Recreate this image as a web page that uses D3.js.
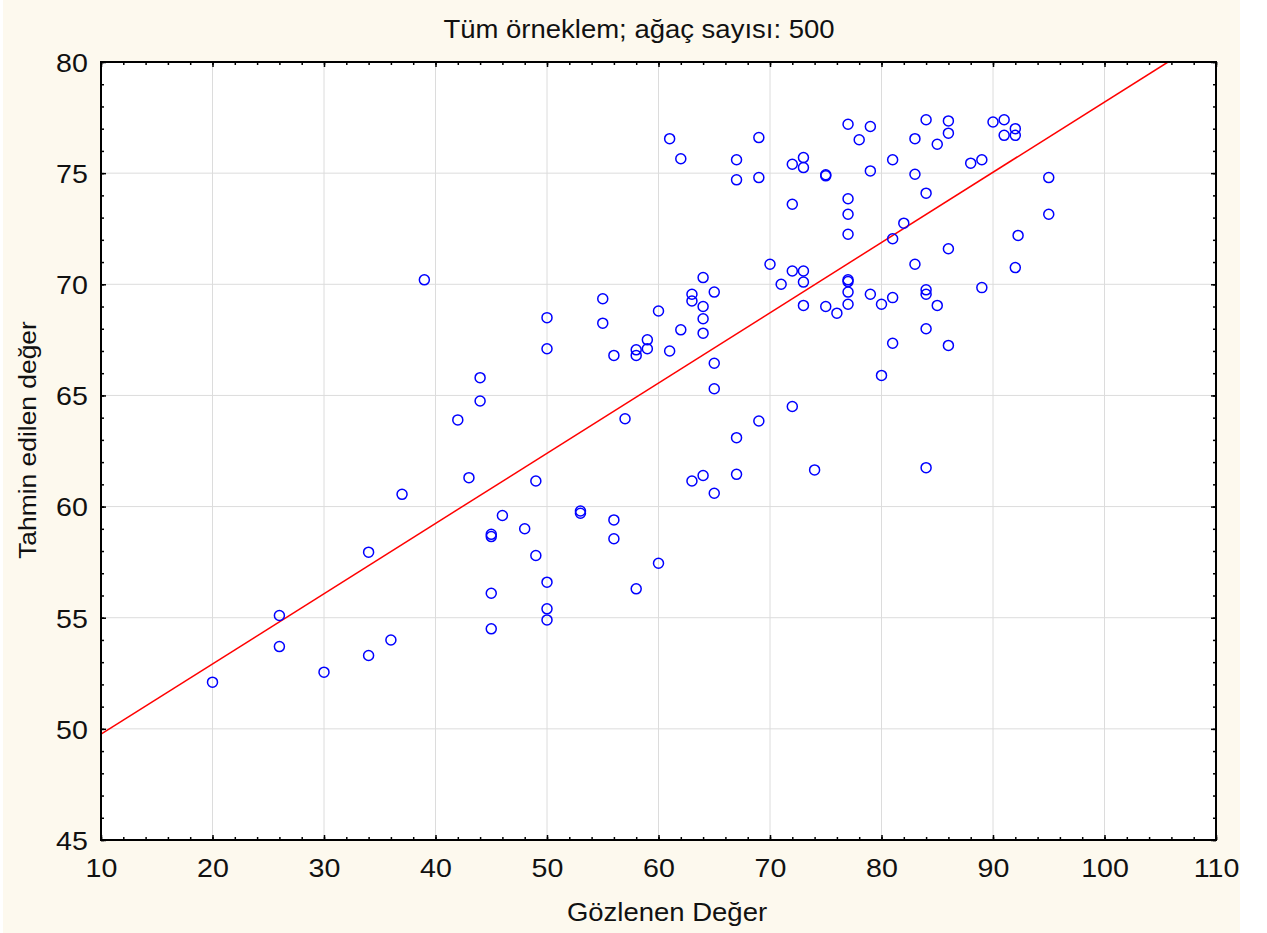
<!DOCTYPE html>
<html>
<head>
<meta charset="utf-8">
<script src="https://cdn.jsdelivr.net/npm/d3@7"></script>
<style>
  body { margin: 0; background: #fff; }
  svg text { font-family: "Liberation Sans", Arial, sans-serif; fill: #111; }
</style>
</head>
<body>
<div id="container"></div>
<script>
/* CONSTANTS AND GLOBALS */
const width = 1267,
  height = 933,
  margin = { top: 62, right: 51, bottom: 93, left: 101 },
  radius = 5,
  stretch = 1.1;

/* DATA */
const observed = [
  20, 26, 26, 30, 34, 34, 36, 37, 39, 42, 43, 44, 44, 45, 45, 45, 45, 46, 48, 49,
  49, 50, 50, 50, 50, 50, 53, 53, 55, 55, 56, 56, 56, 57, 58, 58, 58, 59, 59, 60,
  60, 61, 61, 62, 62, 63, 63, 63, 64, 64, 64, 64, 64, 65, 65, 65, 65, 67, 67, 67,
  67, 69, 69, 69, 70, 71, 72, 72, 72, 72, 73, 73, 73, 73, 73, 74, 75, 75, 75, 76,
  77, 77, 77, 77, 77, 77, 77, 77, 78, 79, 79, 79, 80, 80, 81, 81, 81, 81, 82, 83,
  83, 83, 84, 84, 84, 84, 84, 84, 85, 85, 86, 86, 86, 86, 88, 89, 89, 90, 91, 91,
  92, 92, 92, 92.25, 95, 95
];
const predicted = [
  52.1, 55.1, 53.7, 52.55, 57.95, 53.3, 54.0, 60.55, 70.2, 63.9, 61.3, 65.8, 64.75, 58.65, 58.75, 56.1, 54.5, 59.6, 59.0, 61.15,
  57.8, 68.5, 67.1, 56.6, 55.4, 54.9, 59.7, 59.8, 69.35, 68.25, 66.8, 59.4, 58.55, 63.95, 67.05, 66.8, 56.3, 67.5, 67.1, 68.8,
  57.45, 76.55, 67.0, 75.65, 67.95, 69.55, 69.25, 61.15, 70.3, 69.0, 68.45, 67.8, 61.4, 69.65, 66.45, 65.3, 60.6, 75.6, 74.7, 63.1,
  61.45, 76.6, 74.8, 63.85, 70.9, 70.0, 75.4, 73.6, 70.6, 64.5, 75.7, 75.25, 70.6, 70.1, 69.05, 61.65, 74.93, 74.88, 69.0, 68.7,
  77.2, 73.85, 73.15, 72.25, 70.2, 70.12, 69.65, 69.1, 76.5, 77.1, 75.1, 69.55, 69.1, 65.9, 75.6, 72.05, 69.4, 67.35, 72.75, 76.55,
  74.95, 70.9, 77.4, 74.1, 69.75, 69.55, 68.0, 61.75, 76.3, 69.05, 77.35, 76.8, 71.6, 67.25, 75.45, 75.6, 69.85, 77.3, 77.4, 76.7,
  77.0, 76.7, 70.75, 72.2, 74.8, 73.15
];
const xTicks = [10, 20, 30, 40, 50, 60, 70, 80, 90, 100, 110];
const yTicks = [45, 50, 55, 60, 65, 70, 75, 80];
const fitLine = { intercept: 46.6, slope: 0.316 };

const title = "Tüm örneklem; ağaç sayısı: 500";
const xLabel = "Gözlenen Değer";
const yLabel = "Tahmin edilen değer";

const points = observed.map((d, i) => ({ obs: d, pred: predicted[i] }));

/* SCALES */
const xScale = d3.scaleLinear()
  .domain([10, 110])
  .range([margin.left, width - margin.right]);

const yScale = d3.scaleLinear()
  .domain([45, 80])
  .range([height - margin.bottom, margin.top]);

const x0 = margin.left, x1 = width - margin.right,
  y0 = height - margin.bottom, y1 = margin.top;

/* HTML ELEMENTS */
const svg = d3.select("#container")
  .append("svg")
  .attr("width", width)
  .attr("height", height)
  .style("display", "block")
  .style("background-color", "#fff");

// cream panel
svg.append("rect")
  .attr("x", 3).attr("y", 0)
  .attr("width", 1237).attr("height", height)
  .attr("fill", "#fdf9ee");

// plot area
svg.append("rect")
  .attr("x", x0).attr("y", y1)
  .attr("width", x1 - x0).attr("height", y0 - y1)
  .attr("fill", "#fff");

svg.append("clipPath").attr("id", "plot-clip")
  .append("rect")
  .attr("x", x0).attr("y", y1)
  .attr("width", x1 - x0).attr("height", y0 - y1);

// grid
const grid = svg.append("g").attr("stroke", "#dcdcdc").attr("stroke-width", 1);
grid.selectAll(".vgrid")
  .data(xTicks.slice(1, -1))
  .join("line")
  .attr("class", "vgrid")
  .attr("x1", d => xScale(d)).attr("x2", d => xScale(d))
  .attr("y1", y1).attr("y2", y0);
grid.selectAll(".hgrid")
  .data(yTicks.slice(1, -1))
  .join("line")
  .attr("class", "hgrid")
  .attr("x1", x0).attr("x2", x1)
  .attr("y1", d => yScale(d)).attr("y2", d => yScale(d));

// regression line
const xEnd = Math.min(110, (80 - fitLine.intercept) / fitLine.slope);
svg.append("line")
  .attr("clip-path", "url(#plot-clip)")
  .attr("x1", xScale(10))
  .attr("y1", yScale(fitLine.intercept + fitLine.slope * 10))
  .attr("x2", xScale(xEnd))
  .attr("y2", yScale(fitLine.intercept + fitLine.slope * xEnd))
  .attr("stroke", "#ff0000")
  .attr("stroke-width", 1.5);

// circles
svg.append("g")
  .selectAll(".dot")
  .data(points)
  .join("circle")
  .attr("class", "dot")
  .attr("cx", d => xScale(d.obs))
  .attr("cy", d => yScale(d.pred))
  .attr("r", radius)
  .attr("fill", "none")
  .attr("stroke", "#0000ff")
  .attr("stroke-width", 1.5);

/* AXES (ticks point inward) */
const xMinor = d3.range(10, 111, 2);
const yMinor = d3.range(45, 81, 1);

function styleAxis(g) {
  g.select(".domain").remove();
  g.selectAll(".tick line").attr("stroke", "#000").attr("stroke-width", 1.5);
}

// bottom
svg.append("g")
  .attr("transform", `translate(0,${y0})`)
  .call(d3.axisBottom(xScale).tickValues(xMinor).tickSize(-3).tickFormat(""))
  .call(styleAxis);
svg.append("g")
  .attr("transform", `translate(0,${y0})`)
  .call(d3.axisBottom(xScale).tickValues(xTicks).tickSize(-5).tickPadding(19).tickFormat(d3.format("d")))
  .call(styleAxis)
  .call(g => g.selectAll("text")
    .attr("font-size", 26)
    .attr("transform", `scale(${stretch},1)`));

// top
svg.append("g")
  .attr("transform", `translate(0,${y1})`)
  .call(d3.axisTop(xScale).tickValues(xMinor).tickSize(-3).tickFormat(""))
  .call(styleAxis);
svg.append("g")
  .attr("transform", `translate(0,${y1})`)
  .call(d3.axisTop(xScale).tickValues(xTicks).tickSize(-5).tickFormat(""))
  .call(styleAxis);

// left
svg.append("g")
  .attr("transform", `translate(${x0},0)`)
  .call(d3.axisLeft(yScale).tickValues(yMinor).tickSize(-3).tickFormat(""))
  .call(styleAxis);
svg.append("g")
  .attr("transform", `translate(${x0},0)`)
  .call(d3.axisLeft(yScale).tickValues(yTicks).tickSize(-5).tickPadding(12).tickFormat(d3.format("d")))
  .call(styleAxis)
  .call(g => g.selectAll("text")
    .attr("font-size", 26)
    .attr("dy", "0.36em")
    .attr("transform", `scale(${stretch},1)`));

// right
svg.append("g")
  .attr("transform", `translate(${x1},0)`)
  .call(d3.axisRight(yScale).tickValues(yMinor).tickSize(-3).tickFormat(""))
  .call(styleAxis);
svg.append("g")
  .attr("transform", `translate(${x1},0)`)
  .call(d3.axisRight(yScale).tickValues(yTicks).tickSize(-5).tickFormat(""))
  .call(styleAxis);

// frame
svg.append("rect")
  .attr("x", x0).attr("y", y1)
  .attr("width", x1 - x0).attr("height", y0 - y1)
  .attr("fill", "none")
  .attr("stroke", "#000")
  .attr("stroke-width", 2);

/* TEXTS */
svg.append("text")
  .attr("transform", `translate(639,38) scale(${stretch},1)`)
  .attr("text-anchor", "middle")
  .attr("font-size", 25)
  .text(title);

svg.append("text")
  .attr("transform", `translate(667,921) scale(${stretch},1)`)
  .attr("text-anchor", "middle")
  .attr("font-size", 25)
  .text(xLabel);

svg.append("text")
  .attr("transform", `translate(36,440) rotate(-90) scale(${stretch},1)`)
  .attr("text-anchor", "middle")
  .attr("font-size", 24)
  .text(yLabel);
</script>
</body>
</html>
